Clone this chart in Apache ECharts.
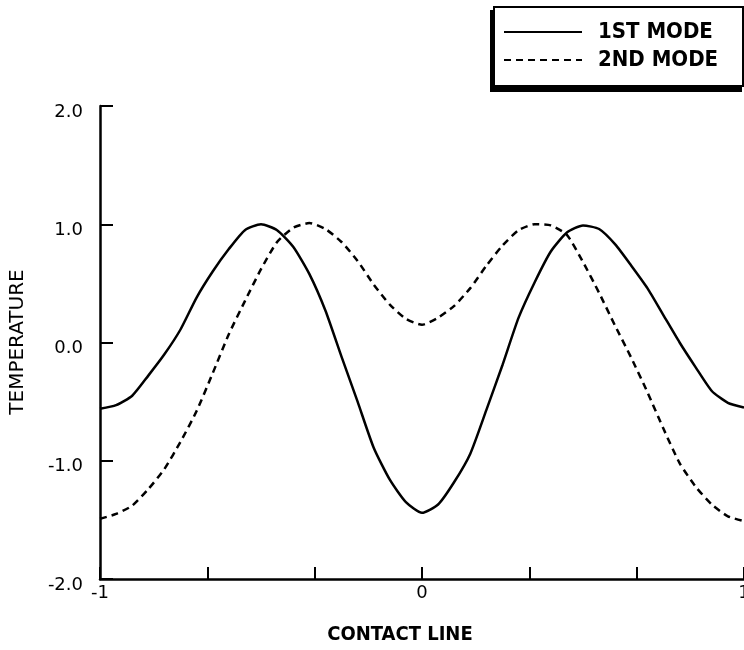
<!DOCTYPE html>
<html>
<head>
<meta charset="utf-8">
<script src="https://cdn.jsdelivr.net/npm/echarts@6/dist/echarts.min.js"></script>
<style>html,body{margin:0;padding:0;background:#fff;}#c{width:744px;height:650px;}</style>
</head>
<body>
<div id="c"></div>
<script>
// Contact line positions
const xs = [-1.00,-0.95,-0.90,-0.85,-0.80,-0.75,-0.70,-0.65,-0.60,-0.55,-0.50,-0.45,-0.40,-0.35,-0.30,-0.25,-0.20,-0.15,-0.10,-0.05,
  0.00,0.05,0.10,0.15,0.20,0.25,0.30,0.35,0.40,0.45,0.50,0.55,0.60,0.65,0.70,0.75,0.80,0.85,0.90,0.95,1.00];
// 1st mode temperature
const mode1 = [-0.56,-0.53,-0.45,-0.28,-0.10,0.11,0.38,0.60,0.79,0.95,1.00,0.95,0.81,0.58,0.27,-0.12,-0.50,-0.89,-1.16,-1.35,
  -1.44,-1.37,-1.18,-0.94,-0.57,-0.19,0.21,0.51,0.77,0.93,0.99,0.96,0.83,0.65,0.46,0.23,0.00,-0.21,-0.41,-0.51,-0.55];
// 2nd mode temperature
const mode2 = [-1.49,-1.45,-1.38,-1.24,-1.07,-0.84,-0.58,-0.26,0.07,0.35,0.62,0.85,0.97,1.01,0.96,0.85,0.69,0.49,0.32,0.20,
  0.15,0.21,0.31,0.46,0.65,0.82,0.95,1.00,0.99,0.91,0.68,0.42,0.14,-0.13,-0.42,-0.73,-1.02,-1.22,-1.37,-1.47,-1.51];
const seriesNames = ['1ST MODE', '2ND MODE'];
const xTitle = 'CONTACT LINE';
const yTitle = 'TEMPERATURE';

const chart = echarts.init(document.getElementById('c'));
const pair = (ys) => xs.map((x, i) => [x, ys[i]]);
const labelFont = '"DejaVu Sans", sans-serif';
const boldFont = '"DejaVu Sans Condensed", "DejaVu Sans", sans-serif';

chart.setOption({
  animation: false,
  backgroundColor: '#fff',
  grid: { left: 100, right: 0, top: 106, bottom: 71, containLabel: false, outerBoundsMode: 'none' },
  xAxis: {
    type: 'value', min: -1, max: 1, interval: 1/3,
    axisLine: { onZero: false, lineStyle: { color: '#000', width: 2.5 } },
    axisTick: { inside: true, length: 12, lineStyle: { color: '#000', width: 2 } },
    splitLine: { show: false },
    axisLabel: {
      color: '#000', fontFamily: labelFont, fontSize: 18, margin: 5,
      formatter: (v) => { const r = Math.round(v); return Math.abs(v - r) < 1e-6 ? String(r) : ''; }
    }
  },
  yAxis: {
    type: 'value', min: -2, max: 2, interval: 1,
    axisLine: { onZero: false, lineStyle: { color: '#000', width: 2.5 } },
    axisTick: { inside: true, length: 13, lineStyle: { color: '#000', width: 2 } },
    splitLine: { show: false },
    axisLabel: {
      color: '#000', margin: 17,
      formatter: (v) => '{a|' + v.toFixed(1) + '}',
      rich: { a: { color: '#000', fontFamily: labelFont, fontSize: 18, padding: [12, 0, 0, 0] } }
    }
  },
  legend: {
    orient: 'vertical', left: 503, top: 21, padding: 0, itemWidth: 78, itemHeight: 14, itemGap: 6,
    data: seriesNames,
    itemStyle: { opacity: 0 },
    textStyle: { color: '#000', fontFamily: boldFont, fontWeight: 'bold', fontSize: 22, padding: [0, 0, 0, 11] }
  },
  graphic: [
    { type: 'rect', z: -1, shape: { x: 490, y: 10, width: 252, height: 82 }, style: { fill: '#000' } },
    { type: 'rect', z: -1, shape: { x: 494, y: 7, width: 249, height: 79 }, style: { fill: '#fff', stroke: '#000', lineWidth: 2 } },
    { type: 'text', x: 400, y: 635, style: { text: xTitle, fill: '#000', align: 'center', verticalAlign: 'middle', font: 'bold 20px "DejaVu Sans Condensed", "DejaVu Sans", sans-serif' } },
    { type: 'text', x: 18, y: 342, rotation: Math.PI / 2, style: { text: yTitle, fill: '#000', align: 'center', verticalAlign: 'middle', font: '20px "DejaVu Sans", sans-serif' } }
  ],
  series: [
    { name: seriesNames[0], type: 'line', data: pair(mode1), symbol: 'none', smooth: 0.2,
      lineStyle: { color: '#000', width: 2.5, type: 'solid' }, itemStyle: { color: '#000' } },
    { name: seriesNames[1], type: 'line', data: pair(mode2), symbol: 'none', smooth: 0.2,
      lineStyle: { color: '#000', width: 2.5, type: [7, 5] }, itemStyle: { color: '#000' } }
  ]
});
</script>
</body>
</html>
